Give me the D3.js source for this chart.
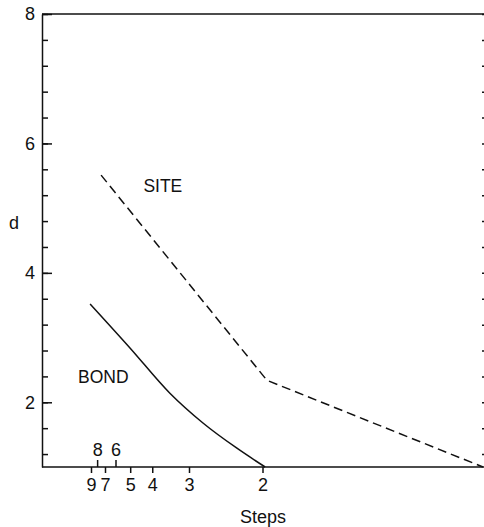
<!DOCTYPE html>
<html>
<head>
<meta charset="utf-8">
<script src="https://cdn.jsdelivr.net/npm/d3@7"></script>
<style>
  body { margin: 0; background: #fff; }
  svg { display: block; }
  text { font-family: "Liberation Sans", Arial, sans-serif; fill: #111; }
</style>
</head>
<body>
<div id="chart"></div>
<script>
// x axis is 1/steps
const bottomSteps = [9, 7, 5, 4, 3, 2];
const topSteps = [8, 6];

const yMajor = [2, 4, 6, 8];
const yMinor = [1.2, 1.6, 2, 2.4, 2.8, 3.2, 3.6, 4, 4.4, 4.8, 5.2, 5.6, 6, 6.4, 6.8, 7.2, 7.6, 8];

// BOND (solid)
const bondInv = [0.109, 0.1995, 0.290, 0.365, 0.442, 0.506];
const bondD = [3.52, 2.84, 2.14, 1.68, 1.29, 1.0];

// SITE (dashed)
const siteInv = [0.134, 0.51, 1.0];
const siteD = [5.51, 2.34, 1.0];

const seriesLabels = [
  { name: "SITE", inv: 0.274, d: 5.35 },
  { name: "BOND", inv: 0.139, d: 2.4 }
];

const width = 484, height = 527;

const svg = d3.select("#chart").append("svg")
  .attr("width", width)
  .attr("height", height);

const x = d3.scaleLinear().domain([0, 1]).range([42, 483]);
const y = d3.scaleLinear().domain([1, 8]).range([467, 14]);

const styleAxis = (g) => {
  g.selectAll("path, line").attr("stroke", "#111").attr("stroke-width", 1.5);
  g.selectAll("text").attr("font-size", 18).attr("fill", "#111")
    .attr("font-family", '"Liberation Sans", Arial, sans-serif');
};

// left axis: minor ticks
svg.append("g")
  .attr("transform", `translate(${x(0)},0)`)
  .call(d3.axisLeft(y).tickValues(yMinor).tickSizeInner(-6).tickSizeOuter(0).tickFormat(""))
  .call(styleAxis);

// left axis: major ticks + labels
svg.append("g")
  .attr("transform", `translate(${x(0)},0)`)
  .call(d3.axisLeft(y).tickValues(yMajor).tickSizeInner(-10).tickSizeOuter(0).tickPadding(7).tickFormat(d3.format("d")))
  .call(styleAxis)
  .call(g => g.select(".domain").remove());

// right frame ticks (mostly off the edge)
svg.append("g")
  .attr("transform", `translate(486,0)`)
  .call(d3.axisRight(y).tickValues(yMinor).tickSizeInner(-4).tickSizeOuter(0).tickFormat(""))
  .call(styleAxis);

// top frame
svg.append("g")
  .attr("transform", `translate(0,${y(8)})`)
  .call(d3.axisTop(x).tickValues([]).tickSizeOuter(0))
  .call(styleAxis)
  .call(g => g.select(".domain").attr("d", `M${x(0)},0H${width}`));

// bottom axis, ticks below
svg.append("g")
  .attr("transform", `translate(0,${y(1)})`)
  .call(d3.axisBottom(x).tickValues(bottomSteps.map(s => 1 / s)).tickSize(6).tickSizeOuter(0).tickPadding(5)
    .tickFormat((d, i) => bottomSteps[i]))
  .call(styleAxis)
  .call(g => g.select(".domain").attr("d", `M${x(0)},0H${width}`));

// bottom axis, ticks above (8 and 6)
svg.append("g")
  .attr("transform", `translate(0,${y(1)})`)
  .call(d3.axisTop(x).tickValues(topSteps.map(s => 1 / s)).tickSize(7).tickSizeOuter(0).tickPadding(4)
    .tickFormat((d, i) => topSteps[i]))
  .call(styleAxis)
  .call(g => g.select(".domain").remove());

// axis titles
svg.append("text")
  .attr("x", 263).attr("y", 523)
  .attr("text-anchor", "middle")
  .attr("font-size", 18)
  .text("Steps");

svg.append("text")
  .attr("x", 14).attr("y", 229)
  .attr("text-anchor", "middle")
  .attr("font-size", 18)
  .text("d");

const line = d3.line()
  .x(d => x(d[0]))
  .y(d => y(d[1]));

svg.append("path")
  .datum(bondInv.map((v, i) => [v, bondD[i]]))
  .attr("d", line.curve(d3.curveMonotoneX))
  .attr("fill", "none")
  .attr("stroke", "#111")
  .attr("stroke-width", 1.5);

svg.append("path")
  .datum(siteInv.map((v, i) => [v, siteD[i]]))
  .attr("d", d3.line().x(d => x(d[0])).y(d => y(d[1])))
  .attr("fill", "none")
  .attr("stroke", "#111")
  .attr("stroke-width", 1.5)
  .attr("stroke-dasharray", "9,5");

svg.selectAll(".series-label")
  .data(seriesLabels)
  .enter()
  .append("text")
  .attr("class", "series-label")
  .attr("x", d => x(d.inv))
  .attr("y", d => y(d.d))
  .attr("text-anchor", "middle")
  .attr("dy", "0.35em")
  .attr("font-size", 17.5)
  .text(d => d.name);
</script>
</body>
</html>
